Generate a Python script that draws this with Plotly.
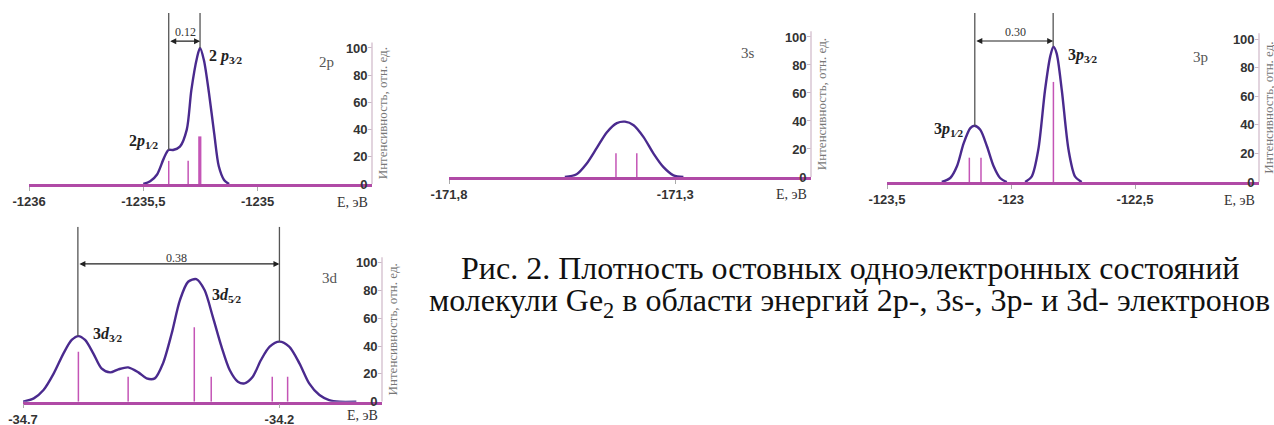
import plotly.graph_objects as go

W, H = 1274, 425

# ---------------- data ----------------
# 2p panel
x_2p = [-1235.50, -1235.47, -1235.44, -1235.41, -1235.39, -1235.37, -1235.34, -1235.31,
        -1235.29, -1235.265, -1235.252, -1235.235, -1235.213, -1235.19, -1235.17, -1235.147, -1235.125]
y_2p = [0, 2, 7, 19, 25, 25, 27.5, 40, 69, 93, 100, 91, 67, 37, 13, 3, 0]
stick_x_2p = [-1235.389, -1235.304, -1235.253]
stick_h_2p = [17, 17, 35]
stick_w_2p = [1.5, 1.5, 3.2]

# 3s panel
x_3s = [-171.544, -171.518, -171.496, -171.473, -171.451, -171.429, -171.411, -171.392,
        -171.37, -171.348, -171.326, -171.304, -171.282]
y_3s = [0, 2, 9.5, 21, 32, 38.5, 39.5, 37, 28.5, 16.7, 7, 1.2, 0]
stick_x_3s = [-171.431, -171.385]
stick_h_3s = [17, 17]
stick_w_3s = [1.5, 1.5]

# 3p panel
x_3p = [-123.279, -123.245, -123.218, -123.191, -123.164, -123.147, -123.124, -123.097, -123.070,
        -123.044, -123.017, None,
        -122.943, -122.916, -122.890, -122.863, -122.842, -122.829, -122.816, -122.795, -122.768,
        -122.742, -122.715]
y_3p = [0, 2.8, 11, 27, 37.7, 39.3, 36.5, 25, 11, 2.8, 0, None,
        0, 4, 22.5, 64, 87.7, 94.7, 90, 64, 22.5, 4, 0]
stick_x_3p = [-123.168, -123.121, -122.829]
stick_h_3p = [17, 17, 70]
stick_w_3p = [1.5, 1.5, 1.5]

# 3d panel
x_3d = [-34.700, -34.679, -34.660, -34.640, -34.621, -34.605, -34.592, -34.579, -34.563, -34.547,
        -34.530, -34.514, -34.495, -34.475, -34.459, -34.443, -34.427, -34.410, -34.394, -34.378,
        -34.362, -34.346, -34.330, -34.313, -34.297, -34.281, -34.268, -34.252, -34.236, -34.219,
        -34.200, -34.181, -34.161, -34.142, -34.122, -34.103, -34.083, -34.05]
y_3d = [0, 2.4, 8.4, 20.4, 34.8, 44.4, 47.2, 44.4, 34.8, 24, 21.1, 23.3, 24.7, 21.1, 16.8, 16.8,
        27.6, 49.2, 73.1, 86.3, 88.2, 80.3, 61.2, 39.6, 22.8, 14.4, 13.2, 18, 30, 39.6, 43.2, 39.6,
        27.6, 13.2, 4.8, 1.2, 0, 0]
stick_x_3d = [-34.592, -34.495, -34.366, -34.333, -34.214, -34.184]
stick_h_3d = [36, 18, 53.5, 18, 18, 18]
stick_w_3d = [1.5, 1.5, 1.5, 1.5, 1.5, 1.5]

# tick labels
ticks_2p = [-1236, -1235.5, -1235]
ticktext_2p = ["-1236", "-1235,5", "-1235"]
ticks_3s = [-171.8, -171.3]
ticktext_3s = ["-171,8", "-171,3"]
ticks_3p = [-123.5, -123, -122.5]
ticktext_3p = ["-123,5", "-123", "-122,5"]
ticks_3d = [-34.7, -34.2]
ticktext_3d = ["-34.7", "-34.2"]
y_ticks = [0, 20, 40, 60, 80, 100]

# splitting markers: (left x, left peak, right x, right peak, arrow y, label, label x, label y)
split_2p = (-1235.389, 25, -1235.252, 100, 105, "0.12", -1235.316, 112)
split_3p = (-123.146, 39.3, -122.830, 94.7, 98.6, "0.30", -122.981, 105)
split_3d = (-34.593, 47.2, -34.200, 43.2, 99.1, "0.38", -34.401, 103.6)

CURVE = "#4a2a8e"
STICK = "#c455b6"
BASE = "#b04aa6"
YLINE = "#d9c6d3"


def px(v):
    return v / W


def py(v):
    return 1 - v / H


panels = [
    dict(xr=[-1236, -1234.5], xd=[29, 372], yt=125.7, yd=[184, 13],
         cx=x_2p, cy=y_2p, sx=stick_x_2p, sh=stick_h_2p, sw=stick_w_2p,
         tv=ticks_2p, tt=ticktext_2p, name="2p", nx=-1234.70, ny=89.7, es=-18),
    dict(xr=[-171.8, -171.0], xd=[449, 811], yt=112.1, yd=[177, 20],
         cx=x_3s, cy=y_3s, sx=stick_x_3s, sh=stick_h_3s, sw=stick_w_3s,
         tv=ticks_3s, tt=ticktext_3s, name="3s", nx=-171.139, ny=88.6, es=-17),
    dict(xr=[-123.5, -122.0], xd=[887, 1259], yt=118.2, yd=[182, 13],
         cx=x_3p, cy=y_3p, sx=stick_x_3p, sh=stick_h_3p, sw=stick_w_3p,
         tv=ticks_3p, tt=ticktext_3p, name="3p", nx=-122.236, ny=87.4, es=-18),
    dict(xr=[-34.7, -34.0], xd=[23, 382], yt=125.9, yd=[401.7, 226.7],
         cx=x_3d, cy=y_3d, sx=stick_x_3d, sh=stick_h_3d, sw=stick_w_3d,
         tv=ticks_3d, tt=ticktext_3d, name="3d", nx=-34.101, ny=89, es=-14),
]

fig = go.Figure()
layout = dict(width=W, height=H, margin=dict(l=0, r=0, t=0, b=0, autoexpand=False),
              paper_bgcolor="white", plot_bgcolor="white", showlegend=False)
shapes = []
annotations = []

serif = "Liberation Serif, Times New Roman, serif"
sans = "Liberation Sans, Arial, sans-serif"

for i, p in enumerate(panels):
    n = "" if i == 0 else str(i + 1)
    xa, ya = "x" + n, "y" + n
    fig.add_trace(go.Scatter(x=p["cx"], y=p["cy"], mode="lines", xaxis=xa, yaxis=ya,
                             line=dict(color=CURVE, width=2.4, shape="spline", smoothing=0.8),
                             connectgaps=False, hoverinfo="skip", cliponaxis=False))
    for sx, sh, sw in zip(p["sx"], p["sh"], p["sw"]):
        fig.add_trace(go.Scatter(x=[sx, sx], y=[0, sh], mode="lines", xaxis=xa, yaxis=ya,
                                 line=dict(color=STICK, width=sw), hoverinfo="skip"))
    layout["xaxis" + n] = dict(
        domain=[px(p["xd"][0]), px(p["xd"][1])], range=p["xr"], anchor=ya,
        automargin=False,
        showline=True, linecolor=BASE, linewidth=2.5, showgrid=False, zeroline=False,
        ticks="outside", ticklen=4, tickcolor="#aaaaaa", tickwidth=1,
        tickvals=p["tv"], ticktext=p["tt"],
        tickfont=dict(family=sans, size=13, color="#333333", weight="bold"),
        fixedrange=True)
    layout["yaxis" + n] = dict(
        domain=[py(p["yd"][0]), py(p["yd"][1])], range=[0, p["yt"]], anchor=xa,
        automargin=False,
        side="right", showline=False, showgrid=False, zeroline=False,
        ticks="inside", ticklen=4, tickcolor="#c8b8c4", tickwidth=1,
        ticklabelposition="inside", ticklabeloverflow="allow",
        tickvals=y_ticks,
        tickfont=dict(family=sans, size=13, color="#333333", weight="bold"),
        fixedrange=True)
    shapes.append(dict(type="line", xref=xa + " domain", yref=ya, x0=1, x1=1, y0=0, y1=104,
                       line=dict(color=YLINE, width=1.5)))
    annotations.append(dict(text="Интенсивность, отн. ед.", textangle=-90,
                            xref=xa + " domain", yref=ya, x=1, y=52, xshift=10,
                            xanchor="center", yanchor="middle",
                            showarrow=False, font=dict(family=serif, size=13, color="#777777")))
    annotations.append(dict(text="E, эВ", xref=xa + " domain", yref=ya, x=1, y=0,
                            xanchor="right", yanchor="middle", yshift=p["es"], xshift=-2,
                            showarrow=False, font=dict(family=serif, size=14, color="#333333")))
    annotations.append(dict(text=p["name"], xref=xa, yref=ya, x=p["nx"], y=p["ny"],
                            showarrow=False, font=dict(family=serif, size=15, color="#555555")))

for split, xa, ya in [(split_2p, "x", "y"), (split_3p, "x3", "y3"), (split_3d, "x4", "y4")]:
    xl, yl, xr, yr, yarr, lab, lx, ly = split
    top = layout["yaxis" + ya[1:]]["range"][1]
    for xx, yy in [(xl, yl), (xr, yr)]:
        shapes.append(dict(type="line", xref=xa, yref=ya, x0=xx, x1=xx, y0=yy, y1=top,
                           line=dict(color="#555555", width=1.3)))
    annotations.append(dict(text="", xref=xa, yref=ya, x=xr, y=yarr, ax=xl, ay=yarr,
                            axref=xa, ayref=ya, showarrow=True, arrowside="end+start",
                            arrowhead=2, arrowsize=1, arrowwidth=1.2, arrowcolor="#222222",
                            standoff=0, startstandoff=0))
    annotations.append(dict(text=lab, xref=xa, yref=ya, x=lx, y=ly, showarrow=False,
                            font=dict(family=serif, size=12, color="#333333")))

peak_labels = [
    ("2 <i>p</i><sub>3⁄2</sub>", "x", "y", -1235.140, 93.4),
    ("2<i>p</i><sub>1⁄2</sub>", "x", "y", -1235.50, 31.6),
    ("3<i>p</i><sub>3⁄2</sub>", "x3", "y3", -122.711, 88.8),
    ("3<i>p</i><sub>1⁄2</sub>", "x3", "y3", -123.254, 36.4),
    ("3<i>d</i><sub>5⁄2</sub>", "x4", "y4", -34.304, 76.7),
    ("3<i>d</i><sub>3⁄2</sub>", "x4", "y4", -34.535, 48.7),
]
for t, xa, ya, xx, yy in peak_labels:
    annotations.append(dict(text=t, xref=xa, yref=ya, x=xx, y=yy, showarrow=False,
                            font=dict(family=serif, size=16, color="#222222", weight="bold")))

annotations.append(dict(text="Рис. 2. Плотность остовных одноэлектронных состояний",
                        xref="paper", yref="paper", x=px(850), y=py(268), showarrow=False,
                        xanchor="center", yanchor="middle",
                        font=dict(family=serif, size=32, color="#111111")))
annotations.append(dict(text="молекули Ge<sub>2</sub> в области энергий 2p-, 3s-, 3p- и 3d- электронов",
                        xref="paper", yref="paper", x=px(849), y=py(302), showarrow=False,
                        xanchor="center", yanchor="middle",
                        font=dict(family=serif, size=32, color="#111111")))

layout["shapes"] = shapes
layout["annotations"] = annotations
fig.update_layout(**layout)
fig.write_html("out.html", config={"displayModeBar": False},
               post_script="document.body.style.margin='0px';document.body.style.overflow='hidden';")
